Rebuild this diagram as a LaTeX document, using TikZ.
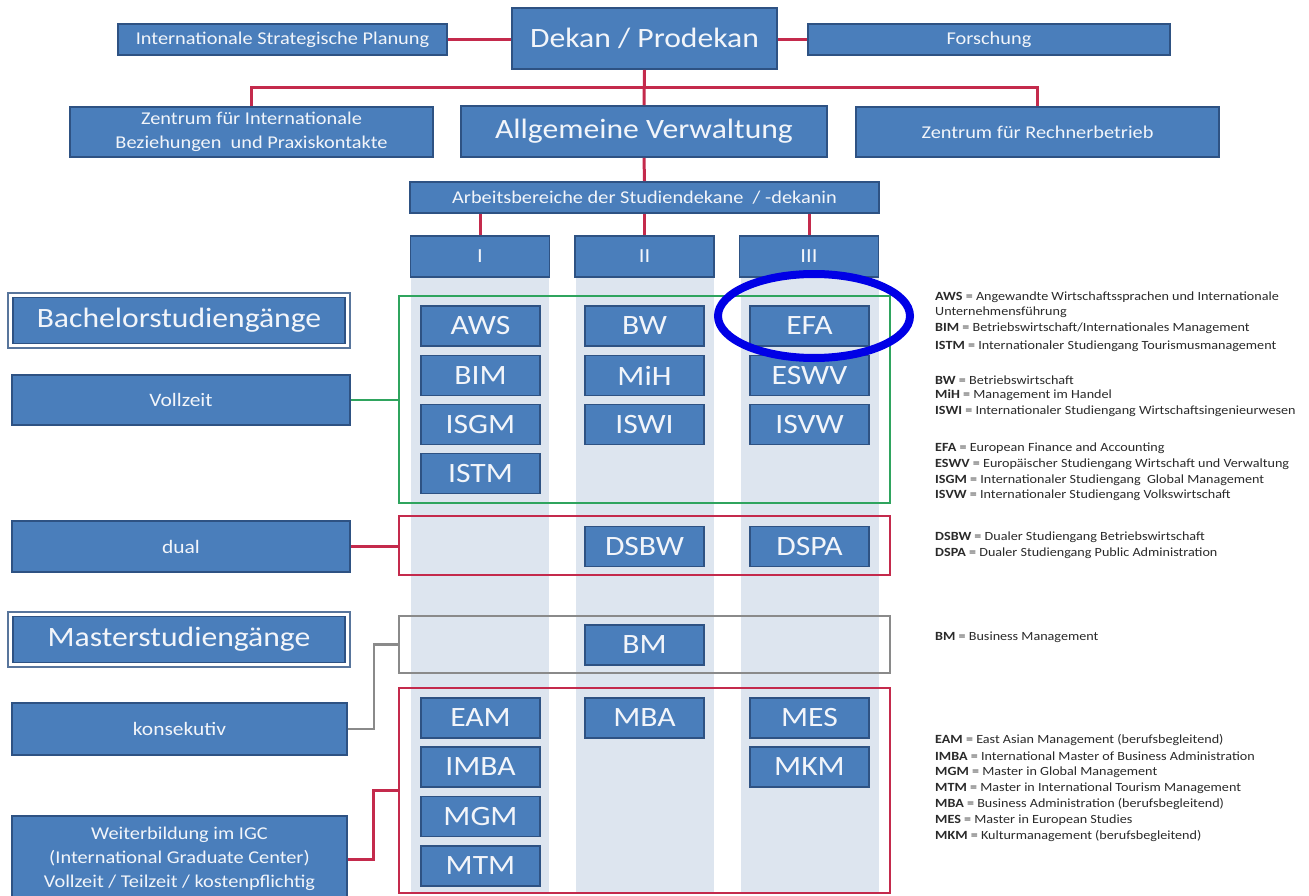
\documentclass[tikz,border=0pt]{standalone}
\usepackage{fontspec}
\setmainfont{Carlito}[FakeStretch=1.13]
\usetikzlibrary{shapes.geometric}
\definecolor{boxfill}{HTML}{4A7EBB}
\definecolor{boxline}{HTML}{2E5283}
\definecolor{boxtext}{HTML}{F2F5FA}
\definecolor{colbg}{HTML}{DDE5EF}
\definecolor{redl}{HTML}{C42A4C}
\definecolor{greenl}{HTML}{2FA45E}
\definecolor{grayl}{HTML}{8A8A8A}
\definecolor{markblue}{HTML}{0000E6}
\definecolor{legtext}{HTML}{2A2A2A}
\begin{document}
\begin{tikzpicture}[x=1pt,y=-1pt,
  box/.style={draw=boxline, line width=1.8pt, fill=boxfill, text=boxtext, inner sep=0pt, align=center, rectangle},
  prog/.style={box, minimum width=119pt, minimum height=40pt, font=\fontsize{28}{30}\selectfont},
  lbl/.style={font=\fontsize{18}{24}\selectfont},
  big/.style={font=\fontsize{28}{30}\selectfont},
  outerframe/.style={draw=boxline!80, line width=1.2pt, fill=white, inner sep=0pt, minimum width=342pt, minimum height=55pt},
  redline/.style={draw=redl, line width=3pt},
  greenline/.style={draw=greenl, line width=2.5pt},
  grayline/.style={draw=grayl, line width=2.5pt},
  grpframe/.style={rectangle, inner sep=0pt, minimum width=491pt},
  leg/.style={anchor=west, inner sep=0pt, text=legtext, font=\fontsize{12.5}{14}\selectfont},
]
\useasboundingbox[fill=white] (0,0) rectangle (1309,896);

% column backgrounds
\fill[colbg] (411,277) rectangle (549,893);
\fill[colbg] (576,277) rectangle (714,893);
\fill[colbg] (741,277) rectangle (879,893);

% top level
\node[box, minimum width=265pt, minimum height=61pt, font=\fontsize{28}{30}\selectfont] (dekan) at (644.5,38.5) {Dekan / Prodekan};
\node[box, lbl, minimum width=329pt, minimum height=31pt] (isp) at (282.5,39.5) {Internationale Strategische Planung};
\node[box, lbl, minimum width=362pt, minimum height=31pt] (fors) at (989,39.5) {Forschung};
\node[box, lbl, minimum width=363pt, minimum height=50pt] (zib) at (251.5,132) {Zentrum für Internationale\\Beziehungen\ \ und Praxiskontakte};
\node[box, big, minimum width=366pt, minimum height=51pt] (av) at (644,131.5) {Allgemeine Verwaltung};
\node[box, lbl, minimum width=363pt, minimum height=50pt] (zrb) at (1037.5,132) {Zentrum für Rechnerbetrieb};
\node[box, lbl, minimum width=469pt, minimum height=31pt] (arb) at (644.5,197.5) {Arbeitsbereiche der Studiendekane\ \ / -dekanin};
\node[box, lbl, font=\fontsize{20}{22}\selectfont, minimum width=139pt, minimum height=41pt] (c1) at (480,256.5) {I};
\node[box, lbl, font=\fontsize{20}{22}\selectfont, minimum width=139pt, minimum height=41pt] (c2) at (644.5,256.5) {II};
\node[box, lbl, font=\fontsize{20}{22}\selectfont, minimum width=139pt, minimum height=41pt] (c3) at (809,256.5) {III};

\coordinate (hub) at (644.5,88);
\draw[redline] (isp.east) -- (isp.east -| dekan.west);
\draw[redline] (fors.west) -- (fors.west -| dekan.east);
\draw[redline] (dekan.south) -- (av.north);
\draw[redline] (zib.north) |- (hub) -| (zrb.north);
\draw[redline] (av.south) -- (arb.north);
\draw[redline] (c1.north) -- (c1.north |- arb.south);
\draw[redline] (c2.north) -- (c2.north |- arb.south);
\draw[redline] (c3.north) -- (c3.north |- arb.south);

% group frames
\node[grpframe, draw=greenl, line width=2.5pt, minimum height=207pt] (gfr) at (644.5,399.5) {};
\node[grpframe, draw=redl, line width=2.5pt, minimum height=59pt] (dfr) at (644.5,545.5) {};
\node[grpframe, draw=grayl, line width=2.5pt, minimum height=57pt] (kfr) at (644.5,644.5) {};
\node[grpframe, draw=redl, line width=2.5pt, minimum height=205pt] (wfr) at (644.5,790.5) {};

% bachelor programmes
\node[prog] (aws) at (480.5,326) {AWS};
\node[prog] (bim) at (480.5,375.5) {BIM};
\node[prog] (isgm) at (480.5,424.5) {ISGM};
\node[prog] (istm) at (480.5,473.5) {ISTM};
\node[prog] (bw) at (644.5,326) {BW};
\node[prog] (mih) at (644.5,375.5) {MiH};
\node[prog] (iswi) at (644.5,424.5) {ISWI};
\node[prog] (efa) at (809.5,326) {EFA};
\node[prog] (eswv) at (809.5,375.5) {ESWV};
\node[prog] (isvw) at (809.5,424.5) {ISVW};
\node[prog] (dsbw) at (644.5,546.5) {DSBW};
\node[prog] (dspa) at (809.5,546.5) {DSPA};
% master programmes
\node[prog] (bm) at (644.5,645) {BM};
\node[prog] (eam) at (480.5,718) {EAM};
\node[prog] (imba) at (480.5,767) {IMBA};
\node[prog] (mgm) at (480.5,816.5) {MGM};
\node[prog] (mtm) at (480.5,866) {MTM};
\node[prog] (mba) at (644.5,718) {MBA};
\node[prog] (mes) at (809.5,718) {MES};
\node[prog] (mkm) at (809.5,767) {MKM};

% left side
\node[outerframe] (bachout) at (179,320.5) {};
\node[box, big, minimum width=332pt, minimum height=46pt] (bach) at (179,320.5) {Bachelorstudiengänge};
\node[box, lbl, font=\fontsize{19}{22}\selectfont, minimum width=338pt, minimum height=50pt] (vz) at (181,400) {Vollzeit};
\node[box, lbl, font=\fontsize{19}{22}\selectfont, minimum width=338pt, minimum height=51pt] (dual) at (181,546.5) {dual};
\node[outerframe] (mastout) at (179,639.5) {};
\node[box, big, minimum width=332pt, minimum height=46pt] (mast) at (179,639.5) {Masterstudiengänge};
\node[box, lbl, font=\fontsize{19}{22}\selectfont, minimum width=335pt, minimum height=52pt] (kons) at (179.5,729) {konsekutiv};
\node[box, lbl, minimum width=335pt, minimum height=86pt] (wb) at (179.5,859) {Weiterbildung im IGC\\(International Graduate Center)\\Vollzeit / Teilzeit / kostenpflichtig};

\draw[greenline] (vz.east) -- (vz.east -| gfr.west);
\draw[redline] (dual.east) -- (dual.east -| dfr.west);
\draw[grayline] (kons.east) -- ++(26,0) |- (kfr.west);
\draw[redline] (wb.east) -- ++(26,0) |- (wfr.west);

% highlight
\node[ellipse, draw=markblue, line width=8pt, minimum width=192pt, minimum height=84pt, inner sep=0pt] (mark) at (814,316) {};

% legend
\node[leg] (l1) at (935,297) {\textbf{AWS} = Angewandte Wirtschaftssprachen und Internationale};
\node[leg] (l2) at (935,312) {Unternehmensführung};
\node[leg] (l3) at (935,328) {\textbf{BIM} = Betriebswirtschaft/Internationales Management};
\node[leg] (l4) at (935,346) {\textbf{ISTM} = Internationaler Studiengang Tourismusmanagement};
\node[leg] (l5) at (935,380) {\textbf{BW} = Betriebswirtschaft};
\node[leg] (l6) at (935,395) {\textbf{MiH} = Management im Handel};
\node[leg] (l7) at (935,411) {\textbf{ISWI} = Internationaler Studiengang Wirtschaftsingenieurwesen};
\node[leg] (l8) at (935,448) {\textbf{EFA} = European Finance and Accounting};
\node[leg] (l9) at (935,464) {\textbf{ESWV} = Europäischer Studiengang Wirtschaft und Verwaltung};
\node[leg] (l10) at (935,480) {\textbf{ISGM} = Internationaler Studiengang\ \ Global Management};
\node[leg] (l11) at (935,495) {\textbf{ISVW} = Internationaler Studiengang Volkswirtschaft};
\node[leg] (l12) at (935,537) {\textbf{DSBW} = Dualer Studiengang Betriebswirtschaft};
\node[leg] (l13) at (935,553) {\textbf{DSPA} = Dualer Studiengang Public Administration};
\node[leg] (l14) at (935,637) {\textbf{BM} = Business Management};
\node[leg] (l15) at (935,740) {\textbf{EAM} = East Asian Management (berufsbegleitend)};
\node[leg] (l16) at (935,756) {\textbf{IMBA} = International Master of Business Administration};
\node[leg] (l17) at (935,772) {\textbf{MGM} = Master in Global Management};
\node[leg] (l18) at (935,788) {\textbf{MTM} = Master in International Tourism Management};
\node[leg] (l19) at (935,804) {\textbf{MBA} = Business Administration (berufsbegleitend)};
\node[leg] (l20) at (935,820) {\textbf{MES} = Master in European Studies};
\node[leg] (l21) at (935,836) {\textbf{MKM} = Kulturmanagement (berufsbegleitend)};
\end{tikzpicture}
\end{document}
